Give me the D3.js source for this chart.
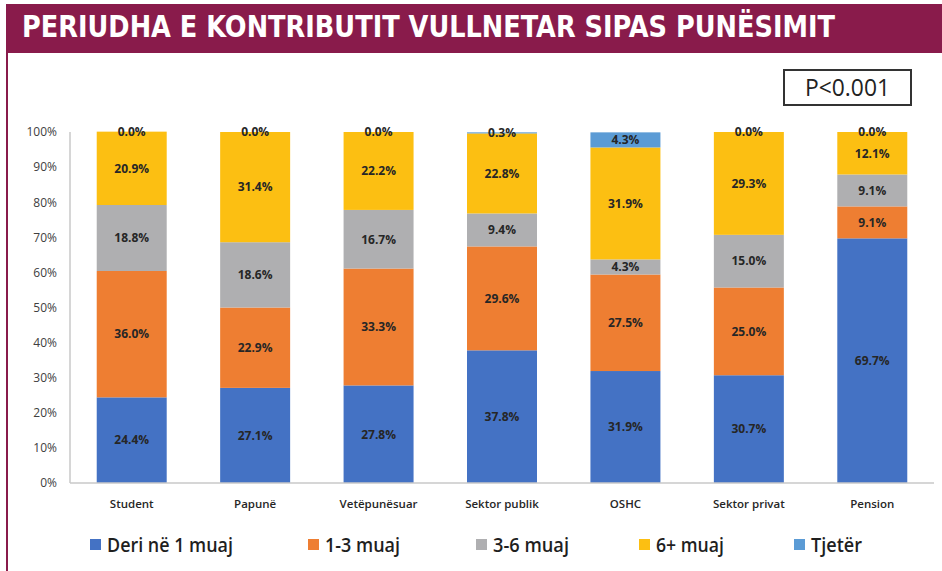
<!DOCTYPE html>
<html>
<head>
<meta charset="utf-8">
<script src="https://cdn.jsdelivr.net/npm/d3@7"></script>
<style>
  html, body { margin: 0; padding: 0; background: #fff; }
  svg { display: block; }
</style>
</head>
<body>
<svg id="chart" width="942" height="571"></svg>
<script>
// Duration of voluntary contribution by employment status (%)
const categories = ["Student", "Papunë", "Vetëpunësuar", "Sektor publik", "OSHC", "Sektor privat", "Pension"];
const seriesNames = ["Deri në 1 muaj", "1-3 muaj", "3-6 muaj", "6+ muaj", "Tjetër"];
const deri1 =   [24.4, 27.1, 27.8, 37.8, 31.9, 30.7, 69.7];
const muaj1_3 = [36.0, 22.9, 33.3, 29.6, 27.5, 25.0, 9.1];
const muaj3_6 = [18.8, 18.6, 16.7, 9.4, 4.3, 15.0, 9.1];
const muaj6 =   [20.9, 31.4, 22.2, 22.8, 31.9, 29.3, 12.1];
const tjeter =  [0.0, 0.0, 0.0, 0.3, 4.3, 0.0, 0.0];
const yTicks = [0, 10, 20, 30, 40, 50, 60, 70, 80, 90, 100];
const titleText = "PERIUDHA E KONTRIBUTIT VULLNETAR SIPAS PUNËSIMIT";
const pText = "P<0.001";

const colors = ["#4472C4", "#EE7E32", "#AFAFB1", "#FCBF12", "#5B9BD5"];
const seriesValues = [deri1, muaj1_3, muaj3_6, muaj6, tjeter];

const rows = categories.map((c, i) => {
  const r = { cat: c };
  seriesNames.forEach((s, k) => { r[s] = seriesValues[k][i]; });
  return r;
});

const svg = d3.select("#chart");
const maroon = "#891B4B";

// frame: title banner and left rule
svg.append("rect").attr("x", 6).attr("y", 4).attr("width", 936).attr("height", 49).attr("fill", maroon);
svg.append("rect").attr("x", 6).attr("y", 53).attr("width", 2).attr("height", 518).attr("fill", maroon);
svg.append("text")
  .attr("x", 22).attr("y", 37)
  .attr("textLength", 813).attr("lengthAdjust", "spacingAndGlyphs")
  .attr("font-family", "'Liberation Sans Narrow', 'DejaVu Sans Condensed', 'Open Sans', sans-serif")
  .attr("font-weight", 700).attr("font-size", 30).attr("fill", "#fff")
  .text(titleText);

// significance box
svg.append("rect").attr("x", 784).attr("y", 70).attr("width", 127).attr("height", 35)
  .attr("fill", "#fff").attr("stroke", "#333").attr("stroke-width", 2);
svg.append("text")
  .attr("x", 847.5).attr("y", 96).attr("text-anchor", "middle")
  .attr("textLength", 85).attr("lengthAdjust", "spacingAndGlyphs")
  .attr("font-family", "'Open Sans', sans-serif").attr("font-size", 24).attr("fill", "#222")
  .text(pText);

const x = d3.scaleBand().domain(categories).range([70, 934]).paddingInner(0.433).paddingOuter(0.2165);
const y = d3.scaleLinear().domain([0, 100]).range([483, 132]);

// y axis labels
const yAxis = d3.axisLeft(y).tickValues(yTicks).tickFormat(d => d + "%").tickSize(0).tickPadding(13);
const yg = svg.append("g").attr("transform", "translate(70,0)").call(yAxis);
yg.select(".domain").remove();
yg.selectAll("text").attr("font-family", "'Open Sans', sans-serif").attr("font-size", 12).attr("fill", "#404040");

// x axis labels
const xAxis = d3.axisBottom(x).tickSize(0).tickPadding(17);
const xg = svg.append("g").attr("transform", "translate(0,483)").call(xAxis);
xg.select(".domain").remove();
xg.selectAll("text").attr("font-family", "'Open Sans', sans-serif").attr("font-weight", 600)
  .attr("font-size", 11.5).attr("fill", "#262626");

// stacked bars
const stack = d3.stack().keys(seriesNames);
const layers = stack(rows);

const gl = svg.append("g").selectAll("g").data(layers).join("g").attr("fill", (d, i) => colors[i]);
gl.selectAll("rect").data(d => d).join("rect")
  .attr("x", d => x(d.data.cat))
  .attr("width", x.bandwidth())
  .attr("y", d => y(d[1]))
  .attr("height", d => Math.max(0, y(d[0]) - y(d[1])));

// axis lines
svg.append("line").attr("x1", 70).attr("x2", 70).attr("y1", 132).attr("y2", 483)
  .attr("stroke", "#C8C8C8").attr("stroke-width", 1.5);
svg.append("line").attr("x1", 70).attr("x2", 934).attr("y1", 483).attr("y2", 483)
  .attr("stroke", "#C8C8C8").attr("stroke-width", 1.5);

// value labels
const lab = svg.append("g");
layers.forEach((layer, k) => {
  lab.selectAll(null).data(layer).join("text")
    .attr("x", d => x(d.data.cat) + x.bandwidth() / 2)
    .attr("y", d => y((d[0] + d[1]) / 2))
    .attr("dy", "0.36em")
    .attr("text-anchor", "middle")
    .attr("font-family", "'Open Sans', sans-serif").attr("font-weight", 700)
    .attr("font-size", 12).attr("fill", "#262626")
    .text(d => (d[1] - d[0]).toFixed(1) + "%");
});

// legend
const legendX = [90, 308, 476, 639, 794];
const legendW = [126, 75, 76, 68, 51];
const lg = svg.append("g");
seriesNames.forEach((s, i) => {
  lg.append("rect").attr("x", legendX[i]).attr("y", 539).attr("width", 11).attr("height", 11).attr("fill", colors[i]);
  lg.append("text")
    .attr("x", legendX[i] + 17).attr("y", 552)
    .attr("textLength", legendW[i]).attr("lengthAdjust", "spacingAndGlyphs")
    .attr("font-family", "'Open Sans', sans-serif").attr("font-weight", 600)
    .attr("font-size", 19).attr("fill", "#1f1f1f")
    .text(s);
});
</script>
</body>
</html>
